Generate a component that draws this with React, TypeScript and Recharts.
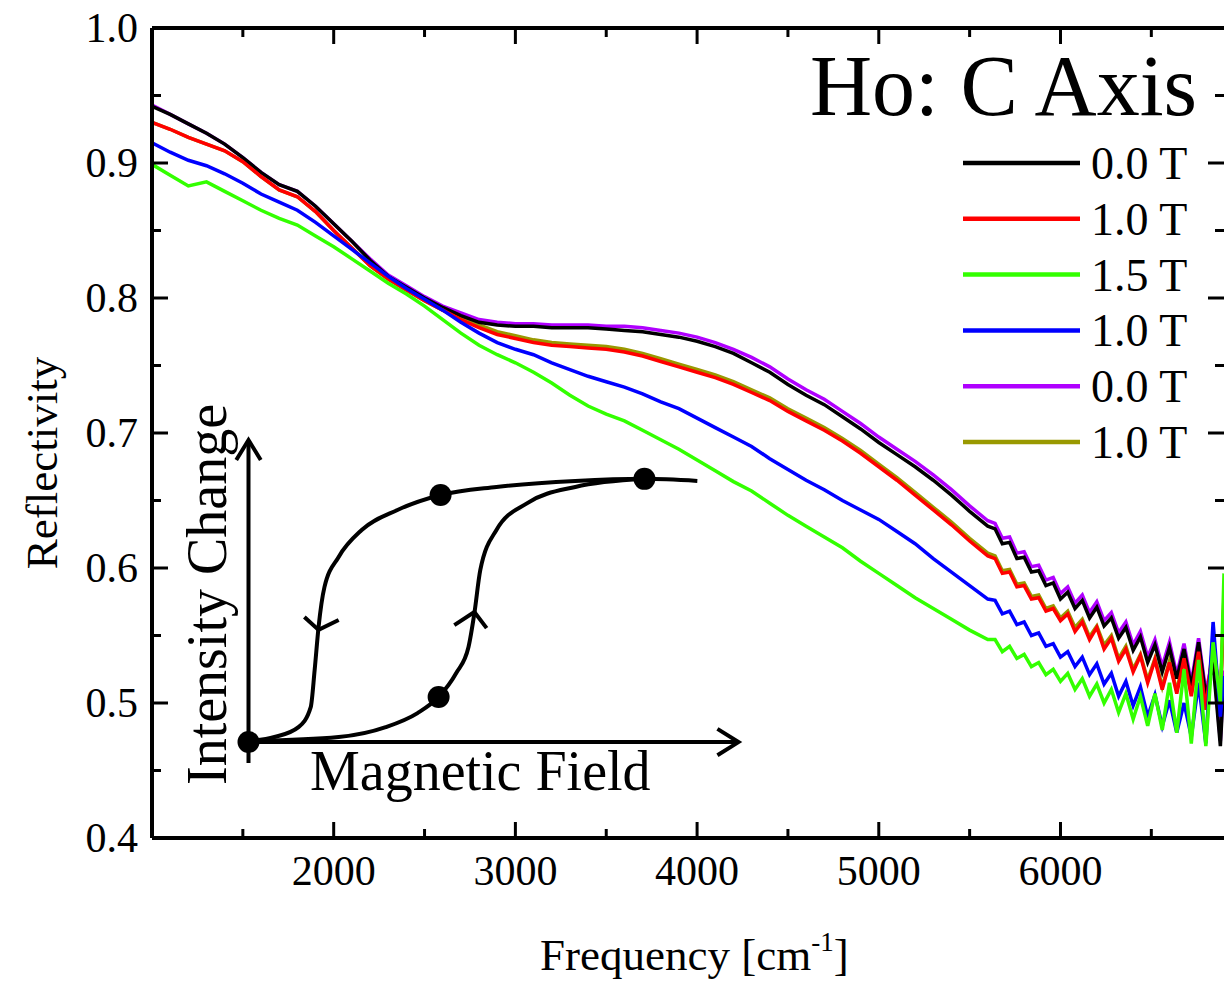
import React from 'react';
import { LineChart, ComposedChart, Line, XAxis, YAxis } from 'recharts';

// frequency grid, cm^-1
const FREQ = [
  1000, 1100, 1200, 1300, 1400, 1500, 1600, 1700, 1800, 1900,
  2000, 2100, 2200, 2300, 2400, 2500, 2600, 2700, 2800, 2900,
  3000, 3100, 3200, 3300, 3400, 3500, 3600, 3700, 3800, 3900,
  4000, 4100, 4200, 4300, 4400, 4500, 4600, 4700, 4800, 4900,
  5000, 5100, 5200, 5300, 5400, 5500, 5600,
  5640, 5680, 5720, 5760, 5800, 5840, 5880, 5920, 5960, 6000,
  6040, 6080, 6120, 6160, 6200, 6240, 6280, 6320, 6360, 6400, 6440, 6480,
  6520, 6560, 6600, 6640, 6680, 6720, 6760, 6800, 6840, 6880, 6900,
];

const R_00A = [
  0.942, 0.936, 0.929, 0.922, 0.914, 0.904, 0.893, 0.884, 0.879, 0.868,
  0.855, 0.842, 0.828, 0.816, 0.808, 0.800, 0.793, 0.787, 0.782, 0.780,
  0.779, 0.779, 0.778, 0.778, 0.778, 0.777, 0.776, 0.775, 0.773, 0.771,
  0.768, 0.764, 0.759, 0.752, 0.745, 0.736, 0.728, 0.721, 0.712, 0.703,
  0.693, 0.684, 0.675, 0.665, 0.654, 0.642, 0.631,
  0.629, 0.618, 0.619, 0.607, 0.608, 0.597, 0.598, 0.587, 0.589, 0.577,
  0.582, 0.570, 0.576, 0.563, 0.571, 0.557, 0.563, 0.548, 0.556, 0.539, 0.549, 0.530,
  0.543, 0.523, 0.541, 0.518, 0.540, 0.512, 0.545, 0.505, 0.530, 0.468, 0.520,
];

const R_10A = [
  0.930, 0.925, 0.919, 0.914, 0.909, 0.901, 0.890, 0.880, 0.875, 0.864,
  0.850, 0.837, 0.824, 0.814, 0.806, 0.798, 0.791, 0.784, 0.778, 0.773,
  0.770, 0.767, 0.765, 0.764, 0.763, 0.762, 0.760, 0.757, 0.753, 0.749,
  0.745, 0.741, 0.736, 0.730, 0.724, 0.716, 0.709, 0.702, 0.694, 0.685,
  0.675, 0.665, 0.654, 0.643, 0.632, 0.620, 0.609,
  0.607, 0.596, 0.597, 0.586, 0.587, 0.577, 0.578, 0.568, 0.570, 0.561,
  0.566, 0.553, 0.560, 0.547, 0.556, 0.540, 0.548, 0.531, 0.540, 0.523, 0.535, 0.515,
  0.532, 0.510, 0.530, 0.507, 0.533, 0.505, 0.538, 0.495, 0.545, 0.500, 0.580,
];

const R_15 = [
  0.899, 0.891, 0.883, 0.886, 0.879, 0.872, 0.865, 0.859, 0.854, 0.846,
  0.838, 0.829, 0.820, 0.811, 0.803, 0.794, 0.784, 0.774, 0.765, 0.758,
  0.752, 0.745, 0.737, 0.728, 0.720, 0.714, 0.709, 0.702, 0.695, 0.688,
  0.680, 0.672, 0.664, 0.657, 0.648, 0.639, 0.631, 0.623, 0.615, 0.605,
  0.596, 0.587, 0.578, 0.570, 0.562, 0.554, 0.547,
  0.547, 0.538, 0.542, 0.533, 0.536, 0.527, 0.530, 0.521, 0.525, 0.516,
  0.522, 0.510, 0.518, 0.505, 0.514, 0.500, 0.510, 0.493, 0.507, 0.488, 0.505, 0.483,
  0.507, 0.480, 0.515, 0.478, 0.525, 0.470, 0.532, 0.468, 0.545, 0.500, 0.596,
];

const R_10B = [
  0.915, 0.908, 0.902, 0.898, 0.892, 0.885, 0.877, 0.871, 0.865, 0.856,
  0.846, 0.836, 0.826, 0.816, 0.807, 0.799, 0.791, 0.782, 0.774, 0.767,
  0.762, 0.758, 0.752, 0.747, 0.742, 0.738, 0.734, 0.729, 0.723, 0.718,
  0.711, 0.704, 0.697, 0.690, 0.681, 0.673, 0.665, 0.658, 0.650, 0.643,
  0.636, 0.627, 0.618, 0.607, 0.597, 0.587, 0.577,
  0.576, 0.566, 0.568, 0.558, 0.560, 0.550, 0.552, 0.542, 0.544, 0.534,
  0.538, 0.527, 0.534, 0.521, 0.529, 0.514, 0.522, 0.505, 0.516, 0.498, 0.512, 0.490,
  0.506, 0.483, 0.502, 0.478, 0.500, 0.475, 0.515, 0.470, 0.560, 0.490, 0.520,
];

const R_00B = [
  0.943, 0.936, 0.929, 0.922, 0.914, 0.904, 0.893, 0.884, 0.879, 0.868,
  0.855, 0.842, 0.829, 0.817, 0.809, 0.801, 0.794, 0.789, 0.784, 0.782,
  0.781, 0.781, 0.780, 0.780, 0.780, 0.779, 0.779, 0.778, 0.776, 0.774,
  0.771, 0.767, 0.762, 0.756, 0.749, 0.740, 0.732, 0.725, 0.716, 0.707,
  0.697, 0.688, 0.679, 0.669, 0.658, 0.646, 0.635,
  0.633, 0.622, 0.623, 0.611, 0.612, 0.601, 0.602, 0.591, 0.593, 0.581,
  0.586, 0.574, 0.580, 0.567, 0.575, 0.561, 0.567, 0.552, 0.560, 0.543, 0.553, 0.534,
  0.547, 0.527, 0.545, 0.521, 0.544, 0.515, 0.548, 0.508, 0.534, 0.472, 0.524,
];

const R_10C = [
  0.930, 0.925, 0.919, 0.914, 0.909, 0.901, 0.890, 0.880, 0.875, 0.864,
  0.850, 0.837, 0.824, 0.814, 0.806, 0.798, 0.791, 0.785, 0.780, 0.775,
  0.772, 0.769, 0.767, 0.766, 0.765, 0.764, 0.762, 0.759, 0.755, 0.751,
  0.747, 0.743, 0.738, 0.732, 0.726, 0.718, 0.711, 0.704, 0.696, 0.687,
  0.677, 0.667, 0.656, 0.645, 0.634, 0.622, 0.611,
  0.609, 0.598, 0.599, 0.588, 0.589, 0.579, 0.580, 0.570, 0.572, 0.563,
  0.568, 0.556, 0.562, 0.549, 0.557, 0.543, 0.550, 0.533, 0.542, 0.525, 0.536, 0.517,
  0.533, 0.512, 0.531, 0.509, 0.534, 0.507, 0.536, 0.498, 0.540, 0.503, 0.575,
];

// legend order
const SERIES = [
  { key: 's1', label: '0.0 T', color: '#000000', values: R_00A },
  { key: 's2', label: '1.0 T', color: '#ff0000', values: R_10A },
  { key: 's3', label: '1.5 T', color: '#33ff00', values: R_15 },
  { key: 's4', label: '1.0 T', color: '#0000ff', values: R_10B },
  { key: 's5', label: '0.0 T', color: '#b000ff', values: R_00B },
  { key: 's6', label: '1.0 T', color: '#999900', values: R_10C },
];
// drawing order (back to front)
const DRAW_ORDER = ['s5', 's6', 's1', 's2', 's4', 's3'];

const X_TICKS = [1500, 2000, 2500, 3000, 3500, 4000, 4500, 5000, 5500, 6000, 6500];
const X_LABELS = [2000, 3000, 4000, 5000, 6000];
const Y_TICKS = [0.4, 0.45, 0.5, 0.55, 0.6, 0.65, 0.7, 0.75, 0.8, 0.85, 0.9, 0.95, 1.0];
const Y_LABELS = [0.4, 0.5, 0.6, 0.7, 0.8, 0.9, 1.0];

// inset sketch: hysteresis loop (field, intensity) in arbitrary units
const LOOP_DOWN = [
  { x: 0, y: 0.3 }, { x: 5.3, y: 1.7 }, { x: 10.2, y: 5.0 }, { x: 12.7, y: 11.7 },
  { x: 13.5, y: 24.1 }, { x: 14.3, y: 38.5 }, { x: 15.5, y: 51.8 }, { x: 18.4, y: 61.9 },
  { x: 23.1, y: 70.9 }, { x: 30.4, y: 77.6 }, { x: 39.2, y: 82.6 }, { x: 50.6, y: 85.3 },
  { x: 66.7, y: 87.3 }, { x: 80.8, y: 88.0 }, { x: 91.6, y: 87.3 },
];
const LOOP_UP = [
  { x: 0, y: 0.3 }, { x: 18.4, y: 1.7 }, { x: 28.0, y: 5.0 }, { x: 34.5, y: 9.7 },
  { x: 38.8, y: 15.1 }, { x: 42.4, y: 23.1 }, { x: 44.9, y: 31.8 }, { x: 46.1, y: 43.1 },
  { x: 47.3, y: 57.5 }, { x: 50.6, y: 70.9 }, { x: 56.9, y: 79.9 }, { x: 66.7, y: 85.3 },
  { x: 80.8, y: 88.0 },
];
const LOOP_DOTS = [
  { x: 0, y: 0 }, { x: 38.8, y: 15.1 }, { x: 39.2, y: 82.6 }, { x: 80.8, y: 88.0 },
];
const AXIS_V = [{ x: 0, y: -7 }, { x: 0, y: 101 }];
const AXIS_V_HEAD = [{ x: -2.5, y: 94.3 }, { x: 0, y: 101 }, { x: 2.5, y: 94.3 }];
const AXIS_H = [{ x: -1.6, y: 0 }, { x: 100, y: 0 }];
const AXIS_H_HEAD = [{ x: 95.7, y: 4.4 }, { x: 100, y: 0 }, { x: 95.7, y: -4.4 }];
const CHEVRON_DOWN = [{ x: 11.4, y: 41.8 }, { x: 14.3, y: 37.5 }, { x: 18.4, y: 40.8 }];
const CHEVRON_UP = [{ x: 42.0, y: 39.1 }, { x: 46.1, y: 43.5 }, { x: 48.6, y: 38.1 }];

const FONT = 'Liberation Serif';

const rows = FREQ.map((f, i) => {
  const r: Record<string, number> = { f };
  SERIES.forEach((s) => {
    r[s.key] = s.values[i];
  });
  return r;
});

const BottomTick = (props: any) => {
  const { x, y, payload } = props;
  const major = payload.value % 1000 === 0;
  return (
    <g>
      <line x1={x} x2={x} y1={y} y2={y - (major ? 16 : 9)} stroke="#000" strokeWidth={3} />
      {X_LABELS.includes(payload.value) && (
        <text x={x} y={y + 47} textAnchor="middle" fontSize={42} style={{ fontFamily: FONT }} fill="#000">
          {payload.value}
        </text>
      )}
    </g>
  );
};

const TopTick = (props: any) => {
  const { x, y, payload } = props;
  const major = payload.value % 1000 === 0;
  return <line x1={x} x2={x} y1={y} y2={y + (major ? 16 : 9)} stroke="#000" strokeWidth={3} />;
};

const LeftTick = (props: any) => {
  const { x, y, payload } = props;
  const major = Y_LABELS.some((v) => Math.abs(v - payload.value) < 1e-6);
  return (
    <g>
      <line x1={x} x2={x + (major ? 16 : 9)} y1={y} y2={y} stroke="#000" strokeWidth={3} />
      {major && (
        <text x={x - 14} y={y + 14} textAnchor="end" fontSize={42} style={{ fontFamily: FONT }} fill="#000">
          {payload.value.toFixed(1)}
        </text>
      )}
    </g>
  );
};

const RightTick = (props: any) => {
  const { x, y, payload } = props;
  const major = Y_LABELS.some((v) => Math.abs(v - payload.value) < 1e-6);
  return <line x1={x} x2={x - (major ? 16 : 9)} y1={y} y2={y} stroke="#000" strokeWidth={3} />;
};

const sketchLine = (key: string, data: { x: number; y: number }[], type: 'linear' | 'monotone' = 'linear') => (
  <Line
    key={key}
    data={data}
    dataKey="y"
    type={type}
    stroke="#000"
    strokeWidth={4}
    dot={false}
    isAnimationActive={false}
  />
);

const axisCommon = {
  type: 'number' as const,
  allowDataOverflow: true,
  interval: 0 as const,
  tickSize: 0,
  tickMargin: 0,
  tickLine: false,
  axisLine: { stroke: '#000', strokeWidth: 4 },
};

export default function App() {
  return (
    <div style={{ position: 'absolute', left: 0, top: 0, width: 1225, height: 982, background: '#fff', fontFamily: FONT }}>
      <LineChart width={1225} height={982} data={rows} margin={{ top: 27, right: 0, bottom: 143, left: 151 }}>
        <XAxis {...axisCommon} xAxisId="b" dataKey="f" domain={[1000, 6900]} ticks={X_TICKS} height={1} tick={BottomTick} />
        <XAxis
          {...axisCommon}
          xAxisId="t"
          orientation="top"
          dataKey="f"
          domain={[1000, 6900]}
          ticks={X_TICKS}
          height={1}
          tick={TopTick}
        />
        <YAxis {...axisCommon} yAxisId="l" domain={[0.4, 1.0]} ticks={Y_TICKS} width={1} tick={LeftTick} />
        <YAxis
          {...axisCommon}
          yAxisId="r"
          orientation="right"
          domain={[0.4, 1.0]}
          ticks={Y_TICKS}
          width={1}
          axisLine={false}
          tick={RightTick}
        />
        {DRAW_ORDER.map((k) => {
          const s = SERIES.find((it) => it.key === k)!;
          return (
            <Line
              key={k}
              xAxisId="b"
              yAxisId="l"
              dataKey={k}
              type="linear"
              stroke={s.color}
              strokeWidth={3.5}
              dot={false}
              isAnimationActive={false}
            />
          );
        })}
      </LineChart>

      {/* inset: hysteresis sketch */}
      <div style={{ position: 'absolute', left: 208.5, top: 413 }}>
        <ComposedChart width={569} height={374} margin={{ top: 15, right: 15, bottom: 15, left: 15 }}>
          <XAxis dataKey="x" type="number" domain={[-5, 105]} hide />
          <YAxis type="number" domain={[-10, 105]} hide />
          {sketchLine('av', AXIS_V)}
          {sketchLine('avh', AXIS_V_HEAD)}
          {sketchLine('ah', AXIS_H)}
          {sketchLine('ahh', AXIS_H_HEAD)}
          {sketchLine('down', LOOP_DOWN, 'monotone')}
          {sketchLine('up', LOOP_UP, 'monotone')}
          {sketchLine('cd', CHEVRON_DOWN)}
          {sketchLine('cu', CHEVRON_UP)}
          <Line
            data={LOOP_DOTS}
            dataKey="y"
            stroke="none"
            dot={{ r: 11, fill: '#000', stroke: 'none' }}
            isAnimationActive={false}
          />
        </ComposedChart>
      </div>

      {/* texts and legend */}
      <svg
        width={1225}
        height={982}
        style={{ position: 'absolute', left: 0, top: 0, pointerEvents: 'none', fontFamily: FONT }}
      >
        <text x={1197} y={115} textAnchor="end" fontSize={86} fill="#000">
          Ho: C Axis
        </text>
        {SERIES.map((s, i) => {
          const ly = 163 + i * 55.8;
          return (
            <g key={s.key + i}>
              <line x1={963} x2={1080} y1={ly} y2={ly} stroke={s.color} strokeWidth={4.5} />
              <text x={1091} y={ly + 16} fontSize={46} fill="#000">
                {s.label}
              </text>
            </g>
          );
        })}
        <text transform="translate(57,463) rotate(-90)" textAnchor="middle" fontSize={45} fill="#000">
          Reflectivity
        </text>
        <text x={540} y={970} fontSize={45} fill="#000">
          Frequency [cm
          <tspan fontSize={27} dy={-19}>-1</tspan>
          <tspan dy={19}>]</tspan>
        </text>
        <text transform="translate(226,785) rotate(-90)" fontSize={56} fill="#000">
          Intensity Change
        </text>
        <text x={310} y={790} fontSize={56} fill="#000">
          Magnetic Field
        </text>
      </svg>
    </div>
  );
}
